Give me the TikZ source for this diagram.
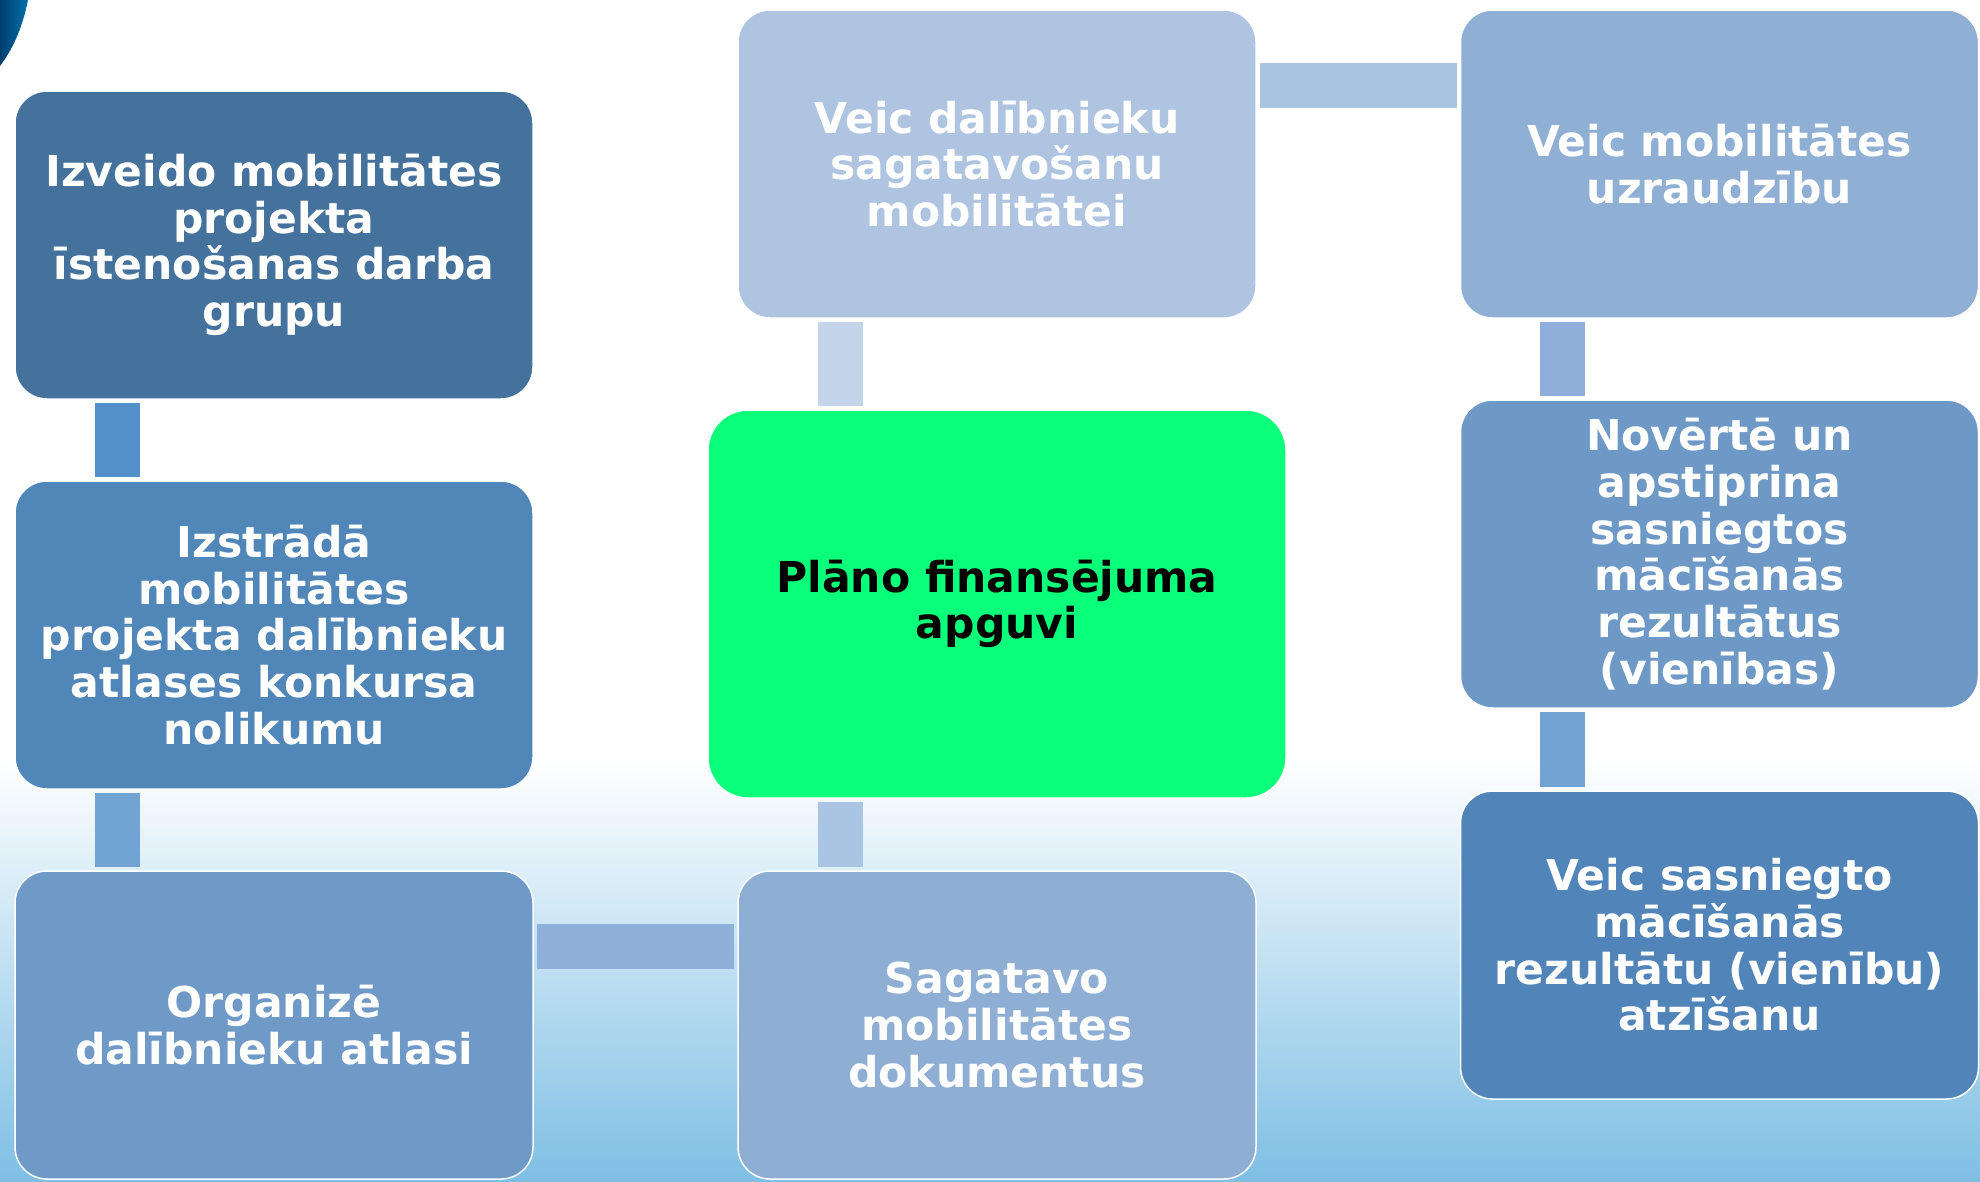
\documentclass[tikz,border=0pt]{standalone}
\usepackage{fontspec}
\setmainfont{DejaVu Sans}
\usepackage{tikz}

\definecolor{boxA}{RGB}{68,114,157}
\definecolor{boxB}{RGB}{81,134,185}
\definecolor{boxC}{RGB}{111,154,199}
\definecolor{boxD}{RGB}{174,196,225}
\definecolor{boxE}{RGB}{143,174,212}
\definecolor{boxF}{RGB}{143,175,213}
\definecolor{boxG}{RGB}{110,153,198}
\definecolor{boxH}{RGB}{81,132,184}
\definecolor{plangreen}{RGB}{10,255,122}
\definecolor{barAB}{RGB}{84,145,203}
\definecolor{barBC}{RGB}{114,164,211}
\definecolor{barDG}{RGB}{196,212,234}
\definecolor{barGE}{RGB}{170,196,228}
\definecolor{barCE}{RGB}{143,176,218}
\definecolor{barDF}{RGB}{170,195,227}
\definecolor{barFG}{RGB}{143,175,218}
\definecolor{barGH}{RGB}{114,163,211}
\definecolor{bgmid}{RGB}{196,225,242}
\definecolor{bgblue}{RGB}{126,191,228}
\definecolor{arcdark}{RGB}{0,62,112}
\definecolor{arclight}{RGB}{0,112,170}

\begin{document}
\begin{tikzpicture}[x=1pt,y=-1pt,
  box/.style={draw=white,line width=1.5pt,rounded corners=32pt,minimum width=518pt,
    minimum height=308pt,inner sep=0pt,align=center,text=white,
    font=\bfseries\fontsize{42.5}{46.7}\selectfont},
  bar/.style={line width=45pt,shorten <=3pt,shorten >=3pt}]
\useasboundingbox (0,0) rectangle (1980,1181);
% background
\fill[white] (0,0) rectangle (1980,1181);
\shade[top color=white,middle color=bgmid,bottom color=bgblue] (0,760) rectangle (1980,1181);
\shade[left color=arcdark,right color=arclight] (0,0) -- (28,0) .. controls (22,30) and (12,50) .. (0,66) -- cycle;

% left column
\node[box,fill=boxA] (izveido) at (274,245) {Izveido mobilitātes\\projekta\\īstenošanas darba\\grupu};
\node[box,fill=boxB] (izstrada) at (274,635) {Izstrādā\\mobilitātes\\projekta dalībnieku\\atlases konkursa\\nolikumu};
\node[box,fill=boxC] (organize) at (274,1025) {Organizē\\dalībnieku atlasi};

% middle column
\node[box,fill=boxD] (sagatavo) at (997,164) {Veic dalībnieku\\sagatavošanu\\mobilitātei};
\node[box,fill=plangreen,text=black,minimum width=578pt,minimum height=388pt,rounded corners=40pt] (plano) at (997,604) {Plāno finansējuma\\apguvi};
\node[box,fill=boxE] (dokumenti) at (997,1025) {Sagatavo\\mobilitātes\\dokumentus};

% right column
\node[box,fill=boxF] (uzrauga) at (1719.5,164) {Veic mobilitātes\\uzraudzību};
\node[box,fill=boxG] (novertē) at (1719.5,554) {Novērtē un\\apstiprina\\sasniegtos\\mācīšanās\\rezultātus\\(vienības)};
\node[box,fill=boxH] (atzist) at (1719.5,945) {Veic sasniegto\\mācīšanās\\rezultātu (vienību)\\atzīšanu};

% connecting bars
\draw[bar,barAB] ([xshift=103pt]izveido.south west) -- ([xshift=103pt]izstrada.north west);
\draw[bar,barBC] ([xshift=103pt]izstrada.south west) -- ([xshift=103pt]organize.north west);
\draw[bar,barCE] ([yshift=-76pt]organize.north east) -- ([yshift=-76pt]dokumenti.north west);
\draw[bar,barGE] ([xshift=103pt]dokumenti.north west) -- ([xshift=103pt]dokumenti.north west |- plano.south);
\draw[bar,barDG] ([xshift=103pt]sagatavo.south west) -- ([xshift=103pt]sagatavo.south west |- plano.north);
\draw[bar,barDF] ([yshift=-76pt]sagatavo.north east) -- ([yshift=-76pt]uzrauga.north west);
\draw[bar,barFG] ([xshift=103pt]uzrauga.south west) -- ([xshift=103pt]novertē.north west);
\draw[bar,barGH] ([xshift=103pt]novertē.south west) -- ([xshift=103pt]atzist.north west);
\end{tikzpicture}
\end{document}
